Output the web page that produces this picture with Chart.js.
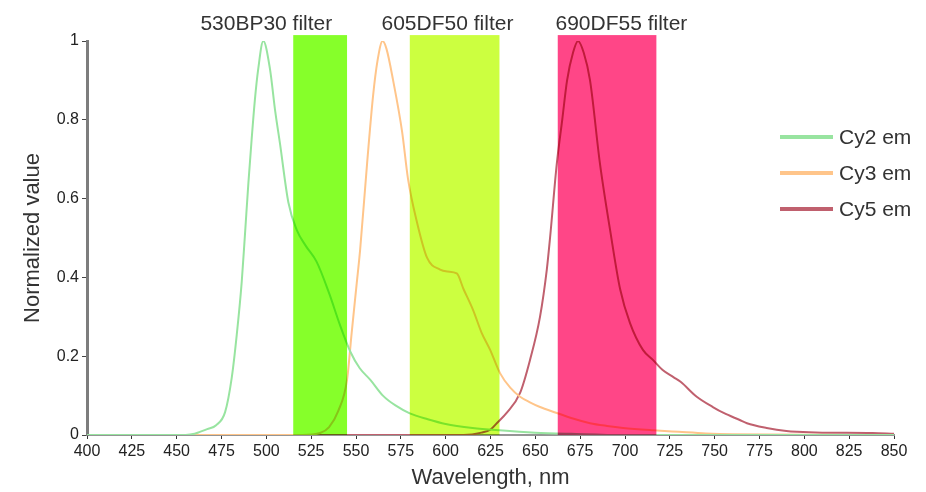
<!DOCTYPE html>
<html>
<head>
<meta charset="utf-8">
<script src="https://cdn.jsdelivr.net/npm/chart.js@4.4.1/dist/chart.umd.min.js"></script>
<style>
  html, body { margin: 0; padding: 0; background: #fff; }
  #wrap { width: 926px; height: 492px; position: relative; }
</style>
</head>
<body>
<div id="wrap"><canvas id="spectra"></canvas></div>
<script>
// emission spectra
const cy2Wl = [400, 455, 460, 463, 467, 472, 477, 480.7, 483.5, 486.3, 488.1, 490, 491.8, 493.6, 495.5, 498.3, 502, 505, 507.6, 512.3, 517, 522, 528, 535, 541, 547, 552, 558, 565, 572, 580, 590, 600, 615, 630, 650, 670, 700, 850];
const cy2Em = [0, 0, 0.003, 0.008, 0.015, 0.025, 0.058, 0.145, 0.254, 0.39, 0.51, 0.64, 0.75, 0.85, 0.93, 1.0, 0.93, 0.82, 0.74, 0.59, 0.52, 0.48, 0.44, 0.36, 0.28, 0.21, 0.17, 0.14, 0.1, 0.075, 0.055, 0.04, 0.028, 0.018, 0.012, 0.006, 0.003, 0, 0];

const cy3Wl = [400, 520, 530, 535, 540, 545, 547.6, 550.4, 552.3, 556.2, 559.5, 562, 564.8, 567, 570.7, 575.7, 579, 584, 589.6, 596.9, 601, 606.2, 610, 615.3, 620, 624.8, 630.3, 636, 641.5, 647, 652.6, 662, 670, 680.5, 690, 699, 715.7, 730, 745, 760, 850];
const cy3Em = [0, 0, 0.005, 0.02, 0.06, 0.14, 0.26, 0.385, 0.47, 0.69, 0.86, 0.95, 1.0, 0.98, 0.9, 0.77, 0.65, 0.54, 0.45, 0.42, 0.415, 0.41, 0.37, 0.317, 0.26, 0.216, 0.157, 0.12, 0.097, 0.083, 0.071, 0.056, 0.043, 0.03, 0.023, 0.018, 0.012, 0.008, 0.004, 0.002, 0];

const cy5Wl = [400, 610, 620, 625, 628.5, 634, 641.5, 647, 652.6, 656.4, 658.2, 662, 665, 667.7, 671, 673.8, 677, 680.5, 686, 691.7, 697.3, 702.8, 710, 715.7, 721, 727, 731, 740, 749, 755, 764, 768, 779, 790, 796, 810, 838, 850];
const cy5Em = [0, 0, 0.006, 0.014, 0.03, 0.056, 0.107, 0.19, 0.3, 0.42, 0.5, 0.69, 0.8, 0.9, 0.97, 1.0, 0.97, 0.9, 0.69, 0.52, 0.37, 0.284, 0.216, 0.19, 0.165, 0.147, 0.135, 0.097, 0.071, 0.056, 0.038, 0.03, 0.018, 0.01, 0.008, 0.006, 0.005, 0.003];

const seriesNames = ["Cy2 em", "Cy3 em", "Cy5 em"];
const seriesColors = ["#98e4a0", "#ffc58a", "#c0606e"];

// filter pass bands (nm)
const filterNames = ["530BP30 filter", "605DF50 filter", "690DF55 filter"];
const filterLo = [515, 580, 662.5];
const filterHi = [545, 630, 717.5];
const filterLabelAt = [500, 601, 698];
const filterColors = ["#86ff2a", "#ccff40", "#ff4687"];
const bandTop = 1.015;

const toPoints = (wl, em) => wl.map((w, i) => ({ x: w, y: em[i] }));

const whiteBg = {
  id: "whiteBg",
  beforeDraw(chart) {
    const ctx = chart.ctx;
    ctx.save();
    ctx.fillStyle = "#fff";
    ctx.fillRect(0, 0, chart.width, chart.height);
    ctx.restore();
  }
};

const filterBands = {
  id: "filterBands",
  afterDatasetsDraw(chart) {
    const ctx = chart.ctx;
    const x = chart.scales.x, y = chart.scales.y;
    ctx.save();
    ctx.globalCompositeOperation = "multiply";
    filterLo.forEach((lo, i) => {
      const x0 = x.getPixelForValue(lo);
      const x1 = x.getPixelForValue(filterHi[i]);
      const y0 = y.getPixelForValue(bandTop);
      const y1 = y.getPixelForValue(0);
      ctx.fillStyle = filterColors[i];
      ctx.fillRect(x0, y0, x1 - x0, y1 - y0);
    });
    ctx.restore();

    ctx.save();
    ctx.font = "21px 'Liberation Sans', Arial, sans-serif";
    ctx.fillStyle = "#333";
    ctx.textAlign = "center";
    ctx.textBaseline = "alphabetic";
    filterNames.forEach((name, i) => {
      ctx.fillText(name, x.getPixelForValue(filterLabelAt[i]), 30);
    });
    ctx.restore();
  }
};

const sideLegend = {
  id: "sideLegend",
  afterDraw(chart) {
    const ctx = chart.ctx;
    ctx.save();
    ctx.font = "21px 'Liberation Sans', Arial, sans-serif";
    ctx.textBaseline = "middle";
    seriesNames.forEach((name, i) => {
      const yy = 137 + i * 36;
      ctx.strokeStyle = seriesColors[i];
      ctx.lineWidth = 4;
      ctx.beginPath();
      ctx.moveTo(780, yy);
      ctx.lineTo(833, yy);
      ctx.stroke();
      ctx.fillStyle = "#333";
      ctx.fillText(name, 839, yy + 1);
    });
    ctx.restore();
  }
};

const tickFont = { family: "'Liberation Sans', Arial, sans-serif", size: 16 };
const titleFont = { family: "'Liberation Sans', Arial, sans-serif", size: 22 };

new Chart(document.getElementById("spectra"), {
  type: "line",
  data: {
    datasets: [
      { label: seriesNames[0], data: toPoints(cy2Wl, cy2Em), borderColor: seriesColors[0] },
      { label: seriesNames[1], data: toPoints(cy3Wl, cy3Em), borderColor: seriesColors[1] },
      { label: seriesNames[2], data: toPoints(cy5Wl, cy5Em), borderColor: seriesColors[2] },
    ],
  },
  options: {
    responsive: true,
    maintainAspectRatio: false,
    animation: false,
    layout: { padding: { top: 41, right: 32, bottom: 0, left: 0 } },
    elements: {
      point: { radius: 0 },
      line: { borderWidth: 2, cubicInterpolationMode: "monotone" },
    },
    plugins: {
      legend: { display: false },
      tooltip: { enabled: false },
    },
    scales: {
      x: {
        type: "linear",
        min: 400,
        max: 850,
        border: { color: "#959595", width: 2 },
        grid: { drawOnChartArea: false, drawTicks: true, tickLength: 4, color: "#333" },
        ticks: { stepSize: 25, color: "#222", font: tickFont, padding: 3, maxRotation: 0, autoSkip: false },
        title: { display: true, text: "Wavelength, nm", color: "#333", font: titleFont, padding: { top: 0, bottom: 1 } },
        afterFit(scale) { scale.height = 57; },
      },
      y: {
        min: 0,
        max: 1,
        border: { color: "#7d7d7d", width: 3 },
        grid: { drawOnChartArea: false, drawTicks: true, tickLength: 5, color: "#444" },
        ticks: {
          stepSize: 0.2, color: "#222", font: tickFont, padding: 3,
          callback: (v) => String(Number(v.toFixed(1))),
        },
        title: { display: true, text: "Normalized value", color: "#333", font: titleFont, padding: { top: 20, bottom: 0 } },
        afterFit(scale) { scale.width = 87; },
      },
    },
  },
  plugins: [whiteBg, filterBands, sideLegend],
});
</script>
</body>
</html>
